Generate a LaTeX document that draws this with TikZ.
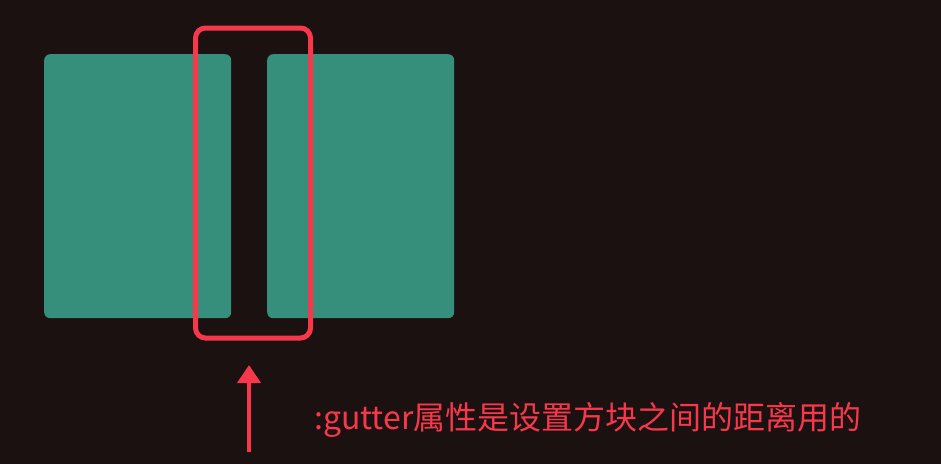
\documentclass[tikz,border=0pt]{standalone}
\usepackage{fontspec}
\newfontfamily\cjk{Noto Sans CJK SC}
\usetikzlibrary{arrows.meta}
\definecolor{bgdark}{RGB}{27,17,17}
\definecolor{boxteal}{RGB}{53,143,123}
\definecolor{markred}{RGB}{246,56,74}
\begin{document}
\begin{tikzpicture}[x=1pt,y=-1pt,
  block/.style = {fill=boxteal, rounded corners=6pt, minimum width=187pt, minimum height=264pt, anchor=north west, inner sep=0pt},
  frame/.style = {draw=markred, line width=5pt, rounded corners=10pt, minimum width=115pt, minimum height=310pt, inner sep=0pt},
  pointer/.style = {markred, line width=4pt, -{Triangle[width=23pt,length=18pt]}},
  caption/.style = {text=markred, font=\cjk\fontsize{32pt}{38pt}\selectfont, anchor=base west, inner sep=0pt}]
    \fill[bgdark] (0,0) rectangle (941,464);
    \useasboundingbox (0,0) rectangle (941,464);

    \node[block](leftbox) at (44,54) {};
    \node[block](rightbox) at (267,54) {};
    \node[frame](gutter) at (253,183) {};

    \coordinate (arrowtail) at (249,452);
    \coordinate (arrowtip) at (249,365);
    \draw[pointer] (arrowtail) -- (arrowtip);

    \node[caption](note) at (314,429) {:gutter属性是设置方块之间的距离用的};
\end{tikzpicture}
\end{document}
